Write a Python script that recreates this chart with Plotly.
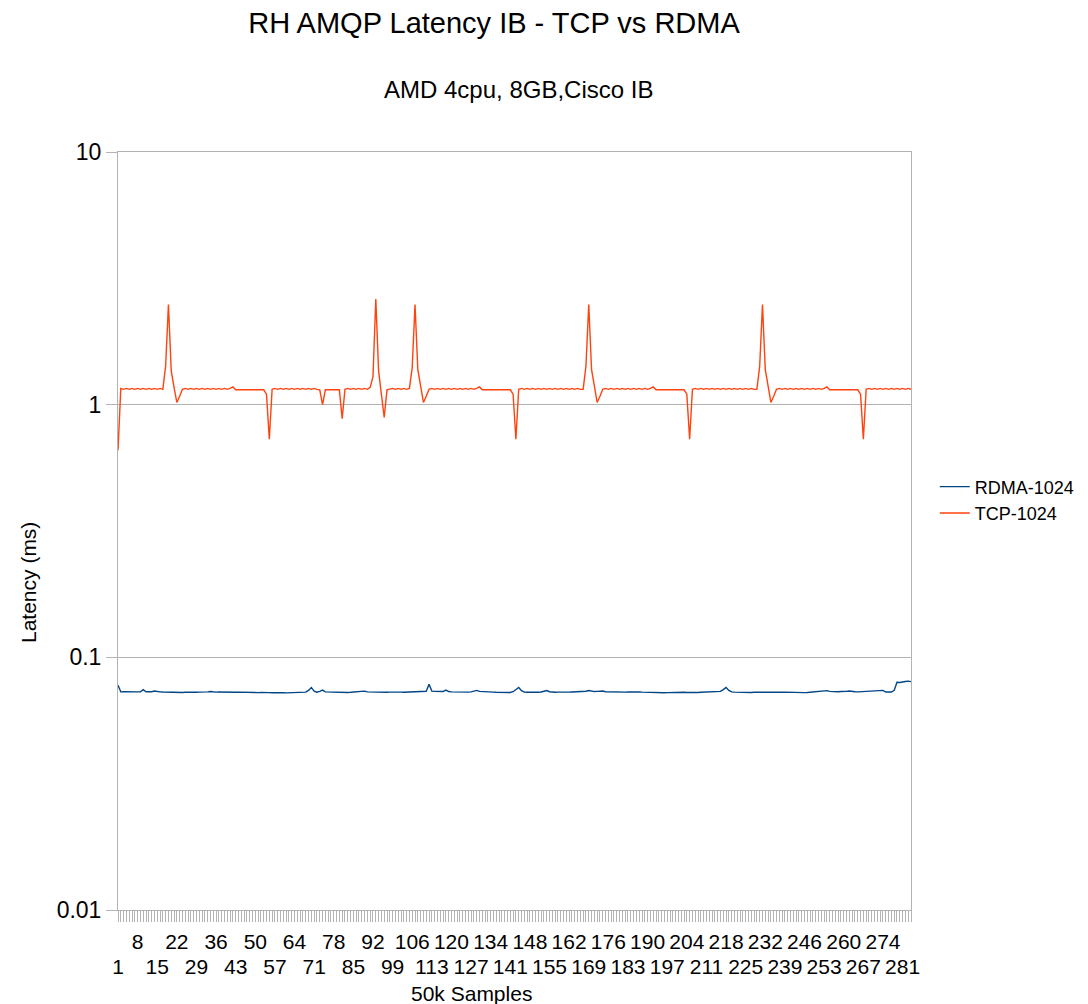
import plotly.graph_objects as go

# Sample number (each sample = 50k messages)
samples = list(range(1, 285))

# Labelled samples on the category axis, drawn in two staggered rows
upper_row_labels = [8, 22, 36, 50, 64, 78, 92, 106, 120, 134, 148, 162, 176, 190,
                    204, 218, 232, 246, 260, 274]
lower_row_labels = [1, 15, 29, 43, 57, 71, 85, 99, 113, 127, 141, 155, 169, 183,
                    197, 211, 225, 239, 253, 267, 281]

# Latency in ms, RDMA transport, 1024-byte messages
rdma_1024 = [
    0.0775, 0.0730, 0.0731, 0.0730, 0.0729, 0.0730, 0.0729, 0.0730, 0.0731, 0.0745,
    0.0731, 0.0730, 0.0731, 0.0736, 0.0731, 0.0730, 0.0729, 0.0728, 0.0727, 0.0728,
    0.0727, 0.0726, 0.0727, 0.0726, 0.0727, 0.0726, 0.0727, 0.0728, 0.0727, 0.0728,
    0.0727, 0.0728, 0.0730, 0.0732, 0.0729, 0.0728, 0.0729, 0.0728, 0.0727, 0.0728,
    0.0727, 0.0726, 0.0727, 0.0728, 0.0727, 0.0726, 0.0725, 0.0726, 0.0725, 0.0726,
    0.0725, 0.0726, 0.0727, 0.0726, 0.0725, 0.0724, 0.0725, 0.0724, 0.0723, 0.0724,
    0.0723, 0.0724, 0.0723, 0.0722, 0.0723, 0.0724, 0.0726, 0.0728, 0.0740, 0.0760,
    0.0735, 0.0728, 0.0733, 0.0742, 0.0730, 0.0729, 0.0728, 0.0729, 0.0728, 0.0727,
    0.0728, 0.0727, 0.0726, 0.0727, 0.0728, 0.0729, 0.0730, 0.0731, 0.0735, 0.0730,
    0.0729, 0.0728, 0.0729, 0.0730, 0.0729, 0.0728, 0.0727, 0.0728, 0.0729, 0.0728,
    0.0727, 0.0728, 0.0727, 0.0728, 0.0729, 0.0728, 0.0729, 0.0730, 0.0731, 0.0730,
    0.0734, 0.0782, 0.0735, 0.0733, 0.0732, 0.0731, 0.0732, 0.0742, 0.0732, 0.0730,
    0.0729, 0.0728, 0.0727, 0.0726, 0.0727, 0.0728, 0.0730, 0.0734, 0.0740, 0.0733,
    0.0731, 0.0732, 0.0731, 0.0729, 0.0728, 0.0727, 0.0726, 0.0725, 0.0726, 0.0725,
    0.0726, 0.0731, 0.0745, 0.0760, 0.0738, 0.0728, 0.0727, 0.0726, 0.0727, 0.0728,
    0.0727, 0.0729, 0.0733, 0.0739, 0.0731, 0.0728, 0.0727, 0.0728, 0.0727, 0.0728,
    0.0729, 0.0728, 0.0729, 0.0730, 0.0729, 0.0730, 0.0732, 0.0734, 0.0739, 0.0733,
    0.0732, 0.0733, 0.0734, 0.0736, 0.0731, 0.0730, 0.0729, 0.0728, 0.0727, 0.0728,
    0.0727, 0.0728, 0.0729, 0.0730, 0.0731, 0.0730, 0.0729, 0.0728, 0.0727, 0.0728,
    0.0727, 0.0726, 0.0725, 0.0726, 0.0725, 0.0724, 0.0725, 0.0726, 0.0725, 0.0726,
    0.0727, 0.0728, 0.0727, 0.0726, 0.0725, 0.0726, 0.0725, 0.0726, 0.0727, 0.0728,
    0.0729, 0.0728, 0.0727, 0.0728, 0.0729, 0.0733, 0.0745, 0.0760, 0.0740, 0.0730,
    0.0728, 0.0727, 0.0726, 0.0725, 0.0726, 0.0725, 0.0726, 0.0727, 0.0726, 0.0725,
    0.0726, 0.0727, 0.0728, 0.0727, 0.0726, 0.0725, 0.0726, 0.0727, 0.0728, 0.0727,
    0.0726, 0.0725, 0.0726, 0.0727, 0.0726, 0.0725, 0.0726, 0.0727, 0.0728, 0.0729,
    0.0730, 0.0731, 0.0733, 0.0738, 0.0733, 0.0731, 0.0730, 0.0731, 0.0732, 0.0731,
    0.0733, 0.0736, 0.0732, 0.0731, 0.0730, 0.0731, 0.0732, 0.0731, 0.0732, 0.0733,
    0.0732, 0.0733, 0.0735, 0.0740, 0.0729, 0.0727, 0.0729, 0.0740, 0.0797, 0.0795,
    0.0796, 0.0802, 0.0805, 0.0801,
]

# Latency in ms, TCP transport, 1024-byte messages
tcp_1024 = [
    0.66, 1.16, 1.15, 1.16, 1.15, 1.16, 1.15, 1.16, 1.15, 1.16,
    1.15, 1.16, 1.15, 1.16, 1.15, 1.16, 1.15, 1.42, 2.49, 1.36,
    1.17, 1.02, 1.08, 1.15, 1.16, 1.15, 1.16, 1.15, 1.16, 1.15,
    1.16, 1.15, 1.16, 1.15, 1.16, 1.15, 1.16, 1.15, 1.16, 1.15,
    1.16, 1.175, 1.145, 1.145, 1.145, 1.145, 1.145, 1.145, 1.145, 1.145,
    1.145, 1.145, 1.145, 1.10, 0.73, 1.15, 1.16, 1.15, 1.16, 1.15,
    1.16, 1.15, 1.16, 1.15, 1.16, 1.15, 1.16, 1.15, 1.16, 1.15,
    1.16, 1.15, 1.145, 1.00, 1.145, 1.145, 1.145, 1.145, 1.145, 1.145,
    0.88, 1.15, 1.16, 1.15, 1.16, 1.15, 1.16, 1.15, 1.16, 1.15,
    1.17, 1.29, 2.62, 1.36, 1.10, 0.89, 1.145, 1.15, 1.16, 1.15,
    1.16, 1.15, 1.16, 1.15, 1.16, 1.40, 2.49, 1.375, 1.17, 1.02,
    1.08, 1.15, 1.16, 1.15, 1.16, 1.15, 1.16, 1.15, 1.16, 1.15,
    1.16, 1.15, 1.16, 1.15, 1.16, 1.15, 1.16, 1.15, 1.16, 1.175,
    1.145, 1.145, 1.145, 1.145, 1.145, 1.145, 1.145, 1.145, 1.145, 1.145,
    1.145, 1.10, 0.73, 1.15, 1.16, 1.15, 1.16, 1.15, 1.16, 1.15,
    1.16, 1.15, 1.16, 1.15, 1.16, 1.15, 1.16, 1.15, 1.16, 1.15,
    1.16, 1.15, 1.16, 1.15, 1.16, 1.15, 1.15, 1.42, 2.49, 1.375,
    1.17, 1.02, 1.08, 1.15, 1.16, 1.15, 1.16, 1.15, 1.16, 1.15,
    1.16, 1.15, 1.16, 1.15, 1.16, 1.15, 1.16, 1.15, 1.16, 1.15,
    1.16, 1.175, 1.145, 1.145, 1.145, 1.145, 1.145, 1.145, 1.145, 1.145,
    1.145, 1.145, 1.145, 1.10, 0.73, 1.15, 1.16, 1.15, 1.16, 1.15,
    1.16, 1.15, 1.16, 1.15, 1.16, 1.15, 1.16, 1.15, 1.16, 1.15,
    1.16, 1.15, 1.16, 1.15, 1.16, 1.15, 1.16, 1.15, 1.15, 1.42,
    2.49, 1.375, 1.17, 1.02, 1.08, 1.15, 1.16, 1.15, 1.16, 1.15,
    1.16, 1.15, 1.16, 1.15, 1.16, 1.15, 1.16, 1.15, 1.16, 1.15,
    1.16, 1.15, 1.16, 1.175, 1.145, 1.145, 1.145, 1.145, 1.145, 1.145,
    1.145, 1.145, 1.145, 1.145, 1.145, 1.10, 0.73, 1.15, 1.16, 1.15,
    1.16, 1.15, 1.16, 1.15, 1.16, 1.15, 1.16, 1.15, 1.16, 1.15,
    1.16, 1.15, 1.16, 1.15,
]

y_tick_values = [0.01, 0.1, 1, 10]
y_tick_labels = ["0.01", "0.1", "1", "10"]

FONT = "Liberation Sans, Arial, sans-serif"
AXIS_GREY = "#b3b3b3"
TICK_SIZE = 21

# Upper label row lives on the main x axis, which also carries one tick per sample
upper_text = [str(s) if s in upper_row_labels else "" for s in samples]

fig = go.Figure()
fig.add_trace(go.Scatter(x=samples, y=rdma_1024, mode="lines", name="RDMA-1024",
                         line=dict(color="#004586", width=1.4)))
fig.add_trace(go.Scatter(x=samples, y=tcp_1024, mode="lines", name="TCP-1024",
                         line=dict(color="#ff420e", width=1.4)))
# Carrier for the second (lower-row) label axis; draws nothing
fig.add_trace(go.Scatter(x=[samples[0], samples[-1]], y=[1, 1], xaxis="x2",
                         mode="markers", marker=dict(opacity=0, size=1),
                         showlegend=False, hoverinfo="skip"))

fig.update_layout(
    width=1088, height=1004,
    margin=dict(l=118, r=177, t=152, b=94, autoexpand=False),
    paper_bgcolor="white", plot_bgcolor="white",
    font=dict(family=FONT, color="black", size=TICK_SIZE),
    title=dict(text="RH AMQP Latency IB - TCP vs RDMA", x=494 / 1088, xanchor="center",
               y=1 - 23 / 1004, yanchor="middle", font=dict(size=29, family=FONT)),
    showlegend=True,
    legend=dict(x=1.03, xanchor="left", y=0.541, yanchor="middle",
                font=dict(size=18, family=FONT), bgcolor="rgba(0,0,0,0)",
                tracegroupgap=0),
    annotations=[
        dict(text="AMD 4cpu, 8GB,Cisco IB", xref="paper", yref="paper",
             x=(518 - 118) / 793, y=(910 - 89) / 758, xanchor="center", yanchor="middle",
             showarrow=False, font=dict(size=24, family=FONT)),
        dict(text="Latency (ms)", xref="paper", yref="paper", textangle=-90,
             x=(28 - 118) / 793, y=(910 - 583) / 758, xanchor="center", yanchor="middle",
             showarrow=False, font=dict(size=TICK_SIZE, family=FONT)),
        dict(text="50k Samples", xref="paper", yref="paper",
             x=(471 - 118) / 793, y=(910 - 993) / 758, xanchor="center", yanchor="middle",
             showarrow=False, font=dict(size=TICK_SIZE, family=FONT)),
    ],
    xaxis=dict(
        range=[1, 284], showgrid=False, zeroline=False,
        showline=True, linecolor=AXIS_GREY, linewidth=1, mirror=True,
        tickmode="array", tickvals=samples, ticktext=upper_text, tickangle=0,
        ticks="outside", ticklen=11, tickcolor=AXIS_GREY, tickwidth=1,
        ticklabelstandoff=2, tickfont=dict(size=TICK_SIZE, family=FONT),
    ),
    xaxis2=dict(
        overlaying="x", matches="x", anchor="y", side="bottom",
        showgrid=False, zeroline=False, showline=False,
        tickmode="array", tickvals=lower_row_labels,
        ticktext=[str(s) for s in lower_row_labels], tickangle=0,
        ticks="outside", ticklen=11, tickcolor="rgba(0,0,0,0)",
        ticklabelstandoff=27, tickfont=dict(size=TICK_SIZE, family=FONT),
    ),
    yaxis=dict(
        type="log", range=[-2, 1], showgrid=True, gridcolor=AXIS_GREY, gridwidth=1,
        zeroline=False, showline=True, linecolor=AXIS_GREY, linewidth=1, mirror=True,
        tickmode="array", tickvals=y_tick_values, ticktext=y_tick_labels,
        ticks="outside", ticklen=11, tickcolor=AXIS_GREY, tickwidth=1,
        tickfont=dict(size=23, family=FONT),
    ),
)

fig.write_html("out.html")
